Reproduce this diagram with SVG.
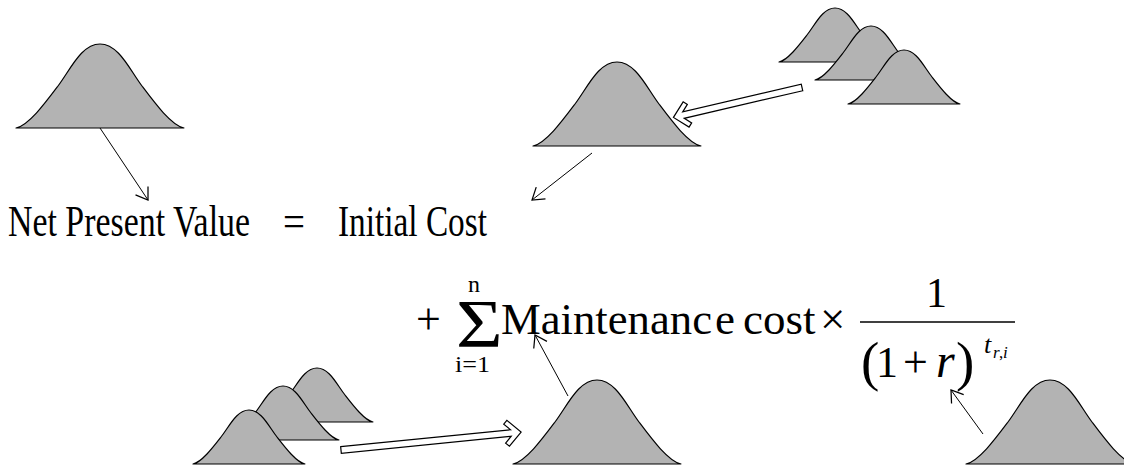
<svg xmlns="http://www.w3.org/2000/svg" xmlns:xlink="http://www.w3.org/1999/xlink" width="1124" height="466" viewBox="0 0 1124 466">
<style>
.bell{fill:#b3b3b3;stroke:#000;stroke-width:1.2;stroke-linejoin:round}
.t{font-family:"Liberation Serif","Times New Roman","DejaVu Serif",serif;fill:#000}
.it{font-style:italic}
.thin{fill:none;stroke:#000;stroke-width:1;marker-end:url(#vhead)}
.hollow{fill:#fff;stroke:#000;stroke-width:1.2;stroke-linejoin:miter}
</style>
<defs>
<path id="bigBell" class="bell" d="M-84,0 C-71.4,-2.52 -54.6,-25.2 -42,-42 C-29.4,-58.8 -18.5,-84 0,-84 C18.5,-84 29.4,-58.8 42,-42 C54.6,-25.2 71.4,-2.52 84,0 Z"/>
<path id="smallBell" class="bell" d="M-56,0 C-47.6,-1.62 -36.4,-16.2 -28,-27 C-19.6,-37.8 -12.3,-54 0,-54 C12.3,-54 19.6,-37.8 28,-27 C36.4,-16.2 47.6,-1.62 56,0 Z"/>
<marker id="vhead" markerUnits="userSpaceOnUse" orient="auto" refX="0" refY="0" markerWidth="20" markerHeight="20" viewBox="-12 -8 14 16" overflow="visible">
<path d="M-9,-6 L0,0 L-9,6" fill="none" stroke="#000" stroke-width="1"/>
</marker>
</defs>
<rect width="1124" height="466" fill="#fff"/>

<g id="bell-top-left"><use xlink:href="#bigBell" transform="translate(100,128)"/></g>
<g id="bell-top-middle"><use xlink:href="#bigBell" transform="translate(617,146)"/></g>
<g id="bells-top-right">
<use xlink:href="#smallBell" transform="translate(835,62)"/>
<use xlink:href="#smallBell" transform="translate(871,80)"/>
<use xlink:href="#smallBell" transform="translate(904,104)"/>
</g>
<g id="bells-bottom-left">
<use xlink:href="#smallBell" transform="translate(317,422)"/>
<use xlink:href="#smallBell" transform="translate(283,440)"/>
<use xlink:href="#smallBell" transform="translate(249,464)"/>
</g>
<g id="bell-bottom-middle"><use xlink:href="#bigBell" transform="translate(597,464)"/></g>
<g id="bell-bottom-right"><use xlink:href="#bigBell" transform="translate(1050,464)"/></g>

<g id="equation-line1" class="t" font-size="44">
<text x="8" y="236" textLength="242" lengthAdjust="spacingAndGlyphs">Net Present Value</text>
<text x="283" y="236" textLength="22" lengthAdjust="spacingAndGlyphs">=</text>
<text x="338" y="236" textLength="149" lengthAdjust="spacingAndGlyphs">Initial Cost</text>
</g>

<g id="equation-line2" class="t">
<text x="416" y="334" font-size="44">+</text>
<text transform="translate(456,346) scale(1.18,1)" x="0" y="0" font-size="68">Σ</text>
<text x="468" y="292" font-size="24">n</text>
<text x="455" y="372" font-size="24" textLength="35" lengthAdjust="spacingAndGlyphs">i=1</text>
<text x="501" y="334" font-size="45" textLength="211" lengthAdjust="spacingAndGlyphs">Maintenanc</text>
<text x="715" y="334" font-size="45">e</text>
<text x="743" y="334" font-size="45">cost</text>
<text x="820" y="334" font-size="45">×</text>
<line x1="860" y1="322" x2="1015" y2="322" stroke="#000" stroke-width="1.5"/>
<text x="926" y="307" font-size="42">1</text>
<text x="861" y="380" font-size="55">(</text>
<text x="876" y="377" font-size="44">1</text>
<text x="903" y="377" font-size="44">+</text>
<text x="936" y="377" font-size="48" class="it">r</text>
<text x="956" y="380" font-size="55">)</text>
<text x="984" y="353" font-size="26" class="it">t</text>
<text x="993" y="358" font-size="17" class="it">r</text>
<text x="999" y="358" font-size="17">,</text>
<text x="1003" y="358" font-size="17" class="it">i</text>
</g>

<g id="connectors">
<line class="thin" x1="100" y1="128" x2="148" y2="200"/>
<line class="thin" x1="592" y1="153" x2="532" y2="200"/>
<line class="thin" x1="568" y1="396" x2="535" y2="335"/>
<line class="thin" x1="983" y1="434" x2="951" y2="390"/>
<polygon class="hollow" transform="translate(802,87.5) rotate(166.9)" points="0,-3.3 121.7,-3.3 115.5,-9.5 119,-13 132,0 119,13 115.5,9.5 121.7,3.3 0,3.3"/>
<polygon class="hollow" transform="translate(341,450) rotate(-5.7)" points="0,-3.3 170.7,-3.3 164.5,-9.5 168,-13 181,0 168,13 164.5,9.5 170.7,3.3 0,3.3"/>
</g>
</svg>
